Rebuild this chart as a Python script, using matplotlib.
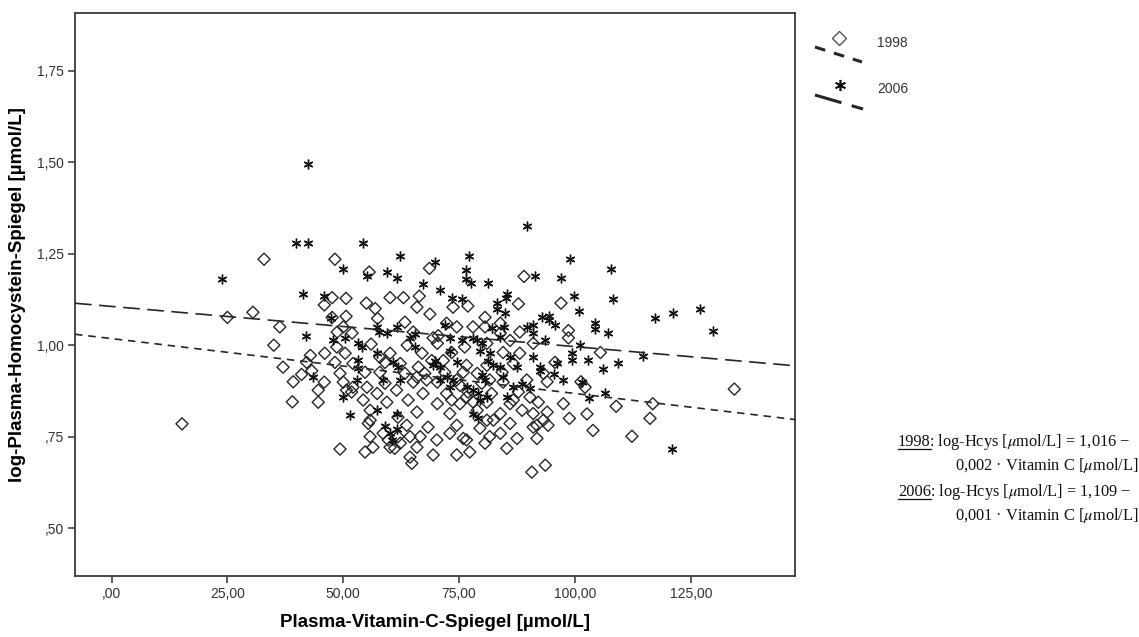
import matplotlib
matplotlib.use("Agg")
import matplotlib.pyplot as plt
from matplotlib.lines import Line2D
from matplotlib.ticker import FuncFormatter, FixedLocator

# ---------- DATA ----------
vitc_1998 = [15.2, 25.0, 30.5, 32.9, 35.0, 36.3, 37.0, 39.2, 39.0, 41.0,
             48.2, 68.6, 55.6, 89.0,
             47.6, 50.6, 60.1, 63.0, 66.4,
             45.9, 55.0, 56.9, 65.9, 73.7, 76.9, 87.8,
             47.6, 50.6, 57.4, 68.7, 80.6,
             50.0, 63.3, 72.3, 80.6,
             51.9, 48.7, 65.1, 70.5, 83.9, 88.1,
             56.0, 63.8, 70.3, 76.2, 81.0, 91.0, 42.9,
             48.6, 60.1, 67.0, 73.4, 84.5, 88.1,
             48.2, 52.1, 59.0, 62.3, 66.2, 76.6, 81.0, 86.7,
             43.2, 49.3, 54.7, 57.9, 63.3, 67.6, 71.9, 75.9, 84.3, 93.2,
             45.9, 50.0, 55.1, 59.0, 65.1, 70.3, 75.2, 79.9, 84.5, 89.6,
             44.6, 51.8, 57.3, 61.5, 67.2, 72.3, 76.9, 82.0, 87.8,
             44.6, 54.3, 59.4, 64.0, 70.3, 75.2, 81.0, 86.0, 92.1,
             55.8, 61.8, 65.9, 73.0, 78.9, 83.9, 88.6, 94.0,
             55.4, 63.7, 68.3, 74.5, 79.5, 86.0, 91.8,
             55.8, 59.7, 61.8, 66.6, 70.2, 75.9, 81.6, 87.5, 91.8,
             49.3, 54.7, 60.1, 64.4, 69.4, 74.5, 77.3, 80.6, 85.3,
             64.8, 90.7, 93.6,
             97.0, 98.6, 98.6, 105.5, 95.7, 101.3, 102.2, 97.5, 102.6, 98.8,
             108.9, 116.8, 116.2, 103.9, 112.3, 134.4, 94.0, 94.2,
             57.9, 65.9, 68.0, 73.4, 76.6, 78.0, 81.0, 82.4, 83.9, 91.0,
             93.2, 58.6, 62.3, 64.4, 50.7, 52.1, 69.4, 74.5, 78.0, 83.9,
             86.0, 69.1, 71.6, 74.5, 78.9, 81.6, 86.7, 90.3, 91.0, 76.6,
             73.0, 65.9, 61.1, 56.4, 55.8, 50.4, 46.0, 42.1]
hcys_1998 = [0.785, 1.076, 1.09, 1.235, 1.0, 1.05, 0.94, 0.90, 0.845, 0.92,
             1.235, 1.21, 1.2, 1.188,
             1.13, 1.128, 1.13, 1.13, 1.134,
             1.11, 1.115, 1.10, 1.104, 1.104, 1.107, 1.113,
             1.076, 1.079, 1.073, 1.085, 1.076,
             1.05, 1.063, 1.06, 1.05,
             1.033, 1.036, 1.036, 1.026, 1.033, 1.036,
             1.003, 1.0, 1.005, 0.995, 1.005, 1.005, 0.972,
             0.995, 0.978, 0.978, 0.98, 0.98, 0.978,
             0.953, 0.95, 0.953, 0.95, 0.94, 0.945, 0.945, 0.95,
             0.93, 0.923, 0.926, 0.926, 0.923, 0.923, 0.926, 0.926, 0.926, 0.923,
             0.899, 0.899, 0.885, 0.896, 0.899, 0.899, 0.89, 0.896, 0.899, 0.905,
             0.877, 0.872, 0.868, 0.877, 0.868, 0.868, 0.872, 0.868, 0.872,
             0.844, 0.85, 0.844, 0.85, 0.84, 0.84, 0.844, 0.84, 0.844,
             0.822, 0.803, 0.817, 0.813, 0.822, 0.813, 0.822, 0.817,
             0.786, 0.781, 0.776, 0.781, 0.773, 0.786, 0.781,
             0.75, 0.741, 0.75, 0.75, 0.741, 0.745, 0.75, 0.745, 0.745,
             0.716, 0.708, 0.721, 0.694, 0.70, 0.70, 0.708, 0.732, 0.718,
             0.677, 0.653, 0.672,
             1.115, 1.04, 1.02, 0.98, 0.953, 0.90, 0.885, 0.84, 0.812, 0.80,
             0.833, 0.84, 0.80, 0.767, 0.751, 0.88, 0.90, 0.781,
             0.967, 0.913, 0.905, 0.85, 0.858, 0.845, 0.795, 0.795, 0.759, 0.813,
             0.795, 0.759, 0.732, 0.75, 0.877, 0.885, 1.02, 1.05, 1.05, 1.06,
             1.013, 0.958, 0.958, 0.905, 0.923, 0.905, 0.85, 0.858, 0.776, 0.741,
             0.759, 0.721, 0.718, 0.721, 0.795, 0.978, 0.978, 0.953]

vitc_2006 = [23.8, 42.4, 39.8, 42.4, 54.3, 41.3, 42.0, 45.8, 50.0, 62.3, 59.4, 61.7, 67.3, 69.7, 70.9, 55.1,
             77.2, 89.6, 76.5, 76.5, 77.6, 81.3, 85.3, 85.2, 83.2, 83.2, 85.0, 73.4, 75.6, 47.3, 57.3, 57.8,
             59.4, 53.2, 54.0, 50.4, 50.0, 51.5, 59.0, 60.1, 61.6, 60.8, 61.8, 53.2, 69.8, 69.4, 70.9, 72.3,
             73.7, 74.6, 78.0, 78.9, 80.0, 75.6, 73.0, 81.6, 81.3, 82.3, 84.5, 78.0, 79.1, 79.5, 78.0, 79.0,
             80.0, 80.6, 86.7, 88.6, 90.3, 92.5, 92.8, 72.0, 64.4, 65.5, 61.6,
             99.0, 91.3, 97.0, 107.8, 99.9, 108.3, 100.9, 117.3, 121.2, 127.0, 129.9, 104.3, 104.3, 107.2,
             114.7, 101.0, 102.9, 109.3, 106.0, 97.5, 106.5, 103.0, 121.0, 94.3, 94.3, 84.8, 91.0, 95.7,
             99.4, 96.2, 92.5, 95.4, 99.4, 101.6, 86.0,
             57.3, 65.5, 73.0, 79.5, 82.0, 83.9, 89.6, 91.0, 93.6, 91.0, 87.5, 83.9, 85.3, 81.0,
             76.6, 73.0, 70.9, 62.3, 58.6, 52.9, 53.2, 57.3, 61.6, 60.5, 43.5, 47.8]
hcys_2006 = [1.18, 1.495, 1.279, 1.279, 1.279, 1.14, 1.025, 1.134, 1.207, 1.243, 1.2, 1.183, 1.168, 1.228, 1.15, 1.19,
             1.243, 1.325, 1.205, 1.18, 1.17, 1.17, 1.14, 1.128, 1.115, 1.10, 1.088, 1.128, 1.125, 1.073, 1.05, 1.036,
             1.033, 1.005, 0.995, 1.02, 0.858, 0.81, 0.78, 0.76, 0.77, 0.953, 0.94, 0.937, 0.958, 0.945, 0.94, 0.913,
             0.905, 0.953, 1.02, 1.013, 1.005, 1.013, 1.02, 0.978, 0.958, 0.945, 0.913, 0.877, 0.868, 0.85, 0.813, 0.80,
             0.918, 0.905, 0.885, 0.895, 0.882, 0.94, 1.076, 1.054, 1.02, 1.03, 1.05,
             1.237, 1.19, 1.185, 1.207, 1.134, 1.127, 1.093, 1.073, 1.087, 1.098, 1.038, 1.06, 1.043, 1.032,
             0.97, 1.0, 0.96, 0.95, 0.936, 0.906, 0.868, 0.855, 0.716, 1.08, 1.068, 1.05, 1.055, 1.055,
             0.978, 0.95, 0.93, 0.922, 0.96, 0.90, 0.967,
             0.978, 0.995, 0.985, 0.985, 1.046, 1.022, 1.05, 1.033, 1.013, 0.967, 0.94, 0.94, 0.858, 0.858,
             0.885, 0.885, 0.905, 0.905, 0.905, 0.905, 0.96, 0.822, 0.813, 0.74, 0.913, 1.013]

# Regressionsgeraden
fit_1998 = (1.018, -0.0015)
fit_2006 = (1.106, -0.0011)

x_ticks = [0, 25, 50, 75, 100, 125]
y_ticks = [0.50, 0.75, 1.00, 1.25, 1.50, 1.75]
x_range = (-7.9, 147.5)
y_range = (0.369, 1.909)

W, H = 1139, 637
INK = "#262626"


def fx(px):
    return px / W


def fy(py):
    return 1 - py / H


def de_fmt(v, pos=None):
    s = f"{v:.2f}".replace(".", ",")
    if s.startswith("0,"):
        s = s[1:]
    return s


plt.rcParams["font.family"] = ["Liberation Sans", "DejaVu Sans"]
plt.rcParams["mathtext.fontset"] = "stix"

fig = plt.figure(figsize=(W / 100, H / 100), dpi=100)
ax = fig.add_axes([fx(75), fy(576), (795 - 75) / W, (576 - 12.7) / H])

ax.scatter(vitc_1998, hcys_1998, marker="D", s=38, facecolors="none",
           edgecolors=INK, linewidths=1.0, zorder=2)
ax.plot(vitc_2006, hcys_2006, linestyle="none", marker=(6, 2, 0), markersize=7,
        markeredgecolor="#111111", markeredgewidth=1.0, zorder=3)

xs = list(x_range)
ax.plot(xs, [fit_1998[0] + fit_1998[1] * v for v in xs], color=INK, lw=1.2,
        dashes=(4.5, 3.5), zorder=4)
ax.plot(xs, [fit_2006[0] + fit_2006[1] * v for v in xs], color=INK, lw=1.2,
        dashes=(10, 4.5), zorder=4)

ax.set_xlim(*x_range)
ax.set_ylim(*y_range)
ax.xaxis.set_major_locator(FixedLocator(x_ticks))
ax.yaxis.set_major_locator(FixedLocator(y_ticks))
ax.xaxis.set_major_formatter(FuncFormatter(de_fmt))
ax.yaxis.set_major_formatter(FuncFormatter(de_fmt))
ax.tick_params(direction="out", length=5, width=1.2, color="#444444",
               labelsize=10, labelcolor="#333333", pad=3)
for sp in ax.spines.values():
    sp.set_color("#3a3a3a")
    sp.set_linewidth(1.3)

ax.set_xlabel("Plasma-Vitamin-C-Spiegel [µmol/L]", fontsize=13.5, fontweight="bold",
              labelpad=9)
ax.set_ylabel("log-Plasma-Homocystein-Spiegel [µmol/L]", fontsize=13.5,
              fontweight="bold", labelpad=8)

# Legende (schräge Linien wie im Original)
fig.add_artist(Line2D([fx(839)], [fy(38)], marker="D", markersize=7,
                      markerfacecolor="none", markeredgecolor="#555555",
                      markeredgewidth=1.0, transform=fig.transFigure))
fig.add_artist(Line2D([fx(815), fx(862)], [fy(47), fy(62)], color=INK, lw=2.2,
                      dashes=(3.5, 3), transform=fig.transFigure))
fig.add_artist(Line2D([fx(840)], [fy(85)], marker=(6, 2, 0), markersize=8,
                      markeredgecolor="#111111", markeredgewidth=1.2,
                      transform=fig.transFigure))
fig.add_artist(Line2D([fx(815), fx(863)], [fy(95), fy(109)], color=INK, lw=2.2,
                      dashes=(9, 3.5), transform=fig.transFigure))
fig.text(fx(877), fy(43), "1998", fontsize=10, va="center", color="#333333")
fig.text(fx(877), fy(89), "2006", fontsize=10, va="center", color="#333333")

# Regressionsgleichungen
eq_kw = dict(fontsize=11.8, family=["Liberation Serif", "DejaVu Serif"], va="baseline",
             color="#111111")
renderer = fig.canvas.get_renderer()
rows = [("1998", "1,016", "0,002", 446), ("2006", "1,109", "0,001", 496)]
for year, b0, b1, base in rows:
    t = fig.text(fx(898), fy(base), year, **eq_kw)
    bb = t.get_window_extent(renderer)
    fig.add_artist(Line2D([bb.x0 / W, bb.x1 / W], [fy(base + 3)] * 2, color="#111111",
                          lw=0.9, transform=fig.transFigure))
    fig.text((bb.x1 - 1.5) / W, fy(base), ": log-Hcys [$\\mu$mol/L] = " + b0 + " \u2212",
             **eq_kw)
    fig.text(fx(955), fy(base + 24), b1 + " \u00b7 Vitamin C [$\\mu$mol/L]", **eq_kw)

fig.savefig("out.png", dpi=100)
